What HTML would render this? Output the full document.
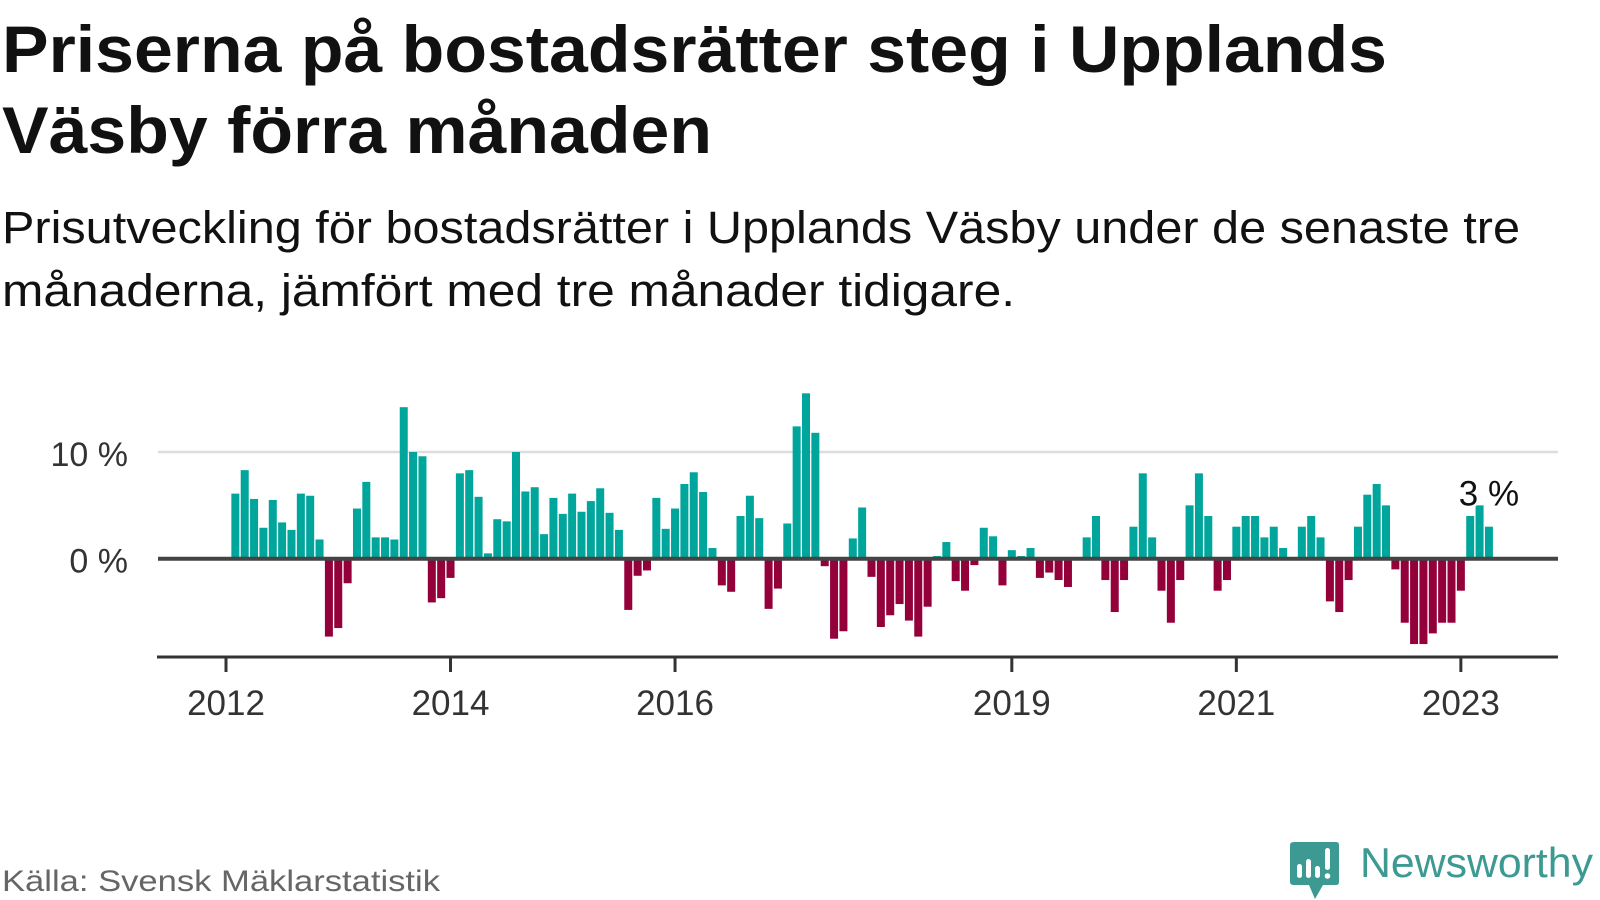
<!DOCTYPE html>
<html><head><meta charset="utf-8"><style>
html,body{margin:0;padding:0;background:#fff;width:1600px;height:900px;overflow:hidden}
svg{display:block}
text{font-family:"Liberation Sans",sans-serif}
</style></head><body>
<svg id="chart" width="1600" height="900" viewBox="0 0 1600 900">
<text x="2" y="72" font-size="66" font-weight="bold" fill="#111" textLength="1385" lengthAdjust="spacingAndGlyphs">Priserna på bostadsrätter steg i Upplands</text>
<text x="2" y="153" font-size="66" font-weight="bold" fill="#111" textLength="710" lengthAdjust="spacingAndGlyphs">Väsby förra månaden</text>
<text x="2" y="243" font-size="45" fill="#111" textLength="1518" lengthAdjust="spacingAndGlyphs">Prisutveckling för bostadsrätter i Upplands Väsby under de senaste tre</text>
<text x="2" y="306" font-size="45" fill="#111" textLength="1013" lengthAdjust="spacingAndGlyphs">månaderna, jämfört med tre månader tidigare.</text>
<g id="plot"></g>
<text x="2" y="891" font-size="30" fill="#666" textLength="438" lengthAdjust="spacingAndGlyphs">Källa: Svensk Mäklarstatistik</text>
<g>
<path d="M1294 842 H1336 Q1339 842 1339 845 V882 Q1339 885 1336 885 H1323 L1315 899 L1309 885 H1294 Q1290 885 1290 882 V845 Q1290 842 1294 842 Z" fill="#3d9a92"/>
<rect x="1297" y="864" width="5" height="14" rx="2.5" fill="#fff"/>
<rect x="1306" y="859" width="5" height="19" rx="2.5" fill="#fff"/>
<rect x="1315" y="866" width="5" height="12" rx="2.5" fill="#fff"/>
<rect x="1325" y="848" width="5" height="22" rx="2.5" fill="#fff"/>
<circle cx="1327.5" cy="876" r="2.8" fill="#fff"/>
<text x="1360" y="877" font-size="42" fill="#3d9a92" textLength="233" lengthAdjust="spacingAndGlyphs">Newsworthy</text>
</g>
</svg>
<script>
// monthly change (%), Feb 2012 .. Mar 2023
const values = [
6.1,8.3,5.6,2.9,5.5,3.4,2.7,6.1,5.9,1.8,-7.3,-6.5,-2.3,4.7,7.2,2.0,2.0,1.8,14.2,10.0,9.6,-4.1,-3.7,-1.8,
8.0,8.3,5.8,0.5,3.7,3.5,10.0,6.3,6.7,2.3,5.7,4.2,6.1,4.4,5.4,6.6,4.3,2.7,-4.8,-1.6,-1.1,5.7,2.8,4.7,
7.0,8.1,6.25,1.0,-2.5,-3.1,4.0,5.9,3.8,-4.7,-2.8,3.3,12.4,15.5,11.8,-0.7,-7.5,-6.8,1.9,4.8,-1.7,-6.4,-5.3,-4.25,
-5.8,-7.3,-4.5,0.25,1.56,-2.1,-3.0,-0.6,2.9,2.1,-2.5,0.8,0.25,1.0,-1.8,-1.3,-2.0,-2.65,0,2.0,4.0,-2.0,
-5.0,-2.0,3.0,8.0,2.0,-3.0,-6.0,-2.0,5.0,8.0,4.0,-3.0,-2.0,3.0,4.0,4.0,2.0,3.0,1.0,0,3.0,4.0,
2.0,-4.0,-5.0,-2.0,3.0,6.0,7.0,5.0,-1.0,-6.0,-8.0,-8.0,-7.0,-6.0,-6.0,-3.0,4.0,5.0,3.0];
const startYear = 2012, startMonth = 1; // Feb (0-based)
const yTicks = [0, 10];
const yTickLabels = ["0 %", "10 %"];
const xTickYears = [2012, 2014, 2016, 2019, 2021, 2023];
const lastLabel = "3 %";

const NS = "http://www.w3.org/2000/svg";
const plot = document.getElementById('plot');
const X0 = 226, PXM = 9.355, Y0 = 558.7, PXP = 10.67;
function xScale(monthIdx){ return X0 + monthIdx * PXM; }
function yScale(v){ return Y0 - v * PXP; }
function mk(tag, attrs){ const e = document.createElementNS(NS, tag); for (const k in attrs) e.setAttribute(k, attrs[k]); plot.appendChild(e); return e; }

// gridlines & y labels
yTicks.forEach((t, i) => {
  if (t !== 0) {
    const g = mk('line', {x1:158, x2:1558, y1:yScale(t), y2:yScale(t), stroke:'#dddddd', 'stroke-width':2.5});
    
    
  }
  const lab = mk('text', {x:128, y:yScale(t)+14, 'font-size':34, fill:'#333', 'text-anchor':'end'});
  lab.textContent = yTickLabels[i];
  
  
});

// bars
values.forEach((v, i) => {
  const m = (startYear - 2012) * 12 + startMonth + i;
  const cx = xScale(m);
  const top = v >= 0 ? yScale(v) : Y0;
  const h = Math.abs(yScale(v) - Y0);
  const r = mk('rect', {x:cx-4, y:top, width:8, height:h, fill: v >= 0 ? '#00a59b' : '#93003a'});
  
  
});

// zero line
const z = mk('line', {x1:158, x2:1558, y1:Y0, y2:Y0, stroke:'#444', 'stroke-width':4});



// x axis
const ax = mk('line', {x1:157, x2:1558, y1:657, y2:657, stroke:'#333', 'stroke-width':3});


xTickYears.forEach(yr => {
  const x = xScale((yr - 2012) * 12);
  const t = mk('line', {x1:x, x2:x, y1:657, y2:672, stroke:'#333', 'stroke-width':3});
  
  
  const l = mk('text', {x:x, y:715, 'font-size':35, fill:'#333', 'text-anchor':'middle'});
  l.textContent = String(yr);
  
  
});

// last value label
const li = values.length - 1;
const lx = xScale((startYear - 2012) * 12 + startMonth + li);
const vl = mk('text', {x:lx, y:yScale(Math.max(values[li],0)) - 21, 'font-size':35, fill:'#111', 'text-anchor':'middle', stroke:'#fff', 'stroke-width':5, 'paint-order':'stroke'});
vl.textContent = lastLabel;


</script>
</body></html>
